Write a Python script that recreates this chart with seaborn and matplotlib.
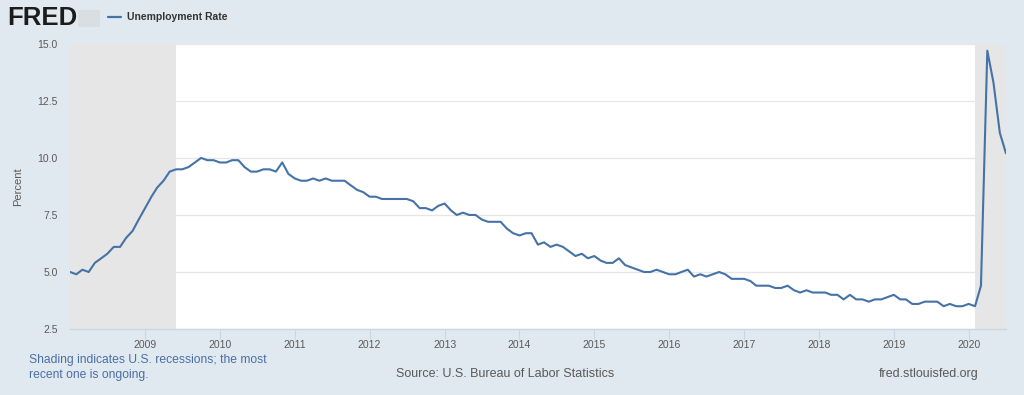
import pandas as pd
import matplotlib.pyplot as plt
import matplotlib.dates as mdates
import seaborn as sns

# monthly unemployment rate, Jan 2008 - Jul 2020
rate_2008 = [5.0, 4.9, 5.1, 5.0, 5.4, 5.6, 5.8, 6.1, 6.1, 6.5, 6.8, 7.3]
rate_2009 = [7.8, 8.3, 8.7, 9.0, 9.4, 9.5, 9.5, 9.6, 9.8, 10.0, 9.9, 9.9]
rate_2010 = [9.8, 9.8, 9.9, 9.9, 9.6, 9.4, 9.4, 9.5, 9.5, 9.4, 9.8, 9.3]
rate_2011 = [9.1, 9.0, 9.0, 9.1, 9.0, 9.1, 9.0, 9.0, 9.0, 8.8, 8.6, 8.5]
rate_2012 = [8.3, 8.3, 8.2, 8.2, 8.2, 8.2, 8.2, 8.1, 7.8, 7.8, 7.7, 7.9]
rate_2013 = [8.0, 7.7, 7.5, 7.6, 7.5, 7.5, 7.3, 7.2, 7.2, 7.2, 6.9, 6.7]
rate_2014 = [6.6, 6.7, 6.7, 6.2, 6.3, 6.1, 6.2, 6.1, 5.9, 5.7, 5.8, 5.6]
rate_2015 = [5.7, 5.5, 5.4, 5.4, 5.6, 5.3, 5.2, 5.1, 5.0, 5.0, 5.1, 5.0]
rate_2016 = [4.9, 4.9, 5.0, 5.1, 4.8, 4.9, 4.8, 4.9, 5.0, 4.9, 4.7, 4.7]
rate_2017 = [4.7, 4.6, 4.4, 4.4, 4.4, 4.3, 4.3, 4.4, 4.2, 4.1, 4.2, 4.1]
rate_2018 = [4.1, 4.1, 4.0, 4.0, 3.8, 4.0, 3.8, 3.8, 3.7, 3.8, 3.8, 3.9]
rate_2019 = [4.0, 3.8, 3.8, 3.6, 3.6, 3.7, 3.7, 3.7, 3.5, 3.6, 3.5, 3.5]
rate_2020 = [3.6, 3.5, 4.4, 14.7, 13.3, 11.1, 10.2]

recessions = [('2007-12-01', '2009-06-01'), ('2020-02-01', '2020-07-01')]
y_ticks = [2.5, 5.0, 7.5, 10.0, 12.5, 15.0]
x_years = list(range(2009, 2021))

rates = (rate_2008 + rate_2009 + rate_2010 + rate_2011 + rate_2012 + rate_2013
         + rate_2014 + rate_2015 + rate_2016 + rate_2017 + rate_2018 + rate_2019
         + rate_2020)
df = pd.DataFrame({'date': pd.date_range('2008-01-01', periods=len(rates), freq='MS'),
                   'rate': rates})

bg = '#e1e9f0'
line_col = '#4572a7'
text_col = '#595959'

sns.set_style('white')
plt.rcParams['font.family'] = ['Liberation Sans', 'DejaVu Sans']

fig = plt.figure(figsize=(10.24, 3.95), dpi=100, facecolor=bg)
ax = fig.add_axes([0.0684, 0.167, 0.914, 0.722])
ax.set_facecolor('white')

x_start = pd.Timestamp('2008-01-01')
x_end = pd.Timestamp('2020-07-01')
for r0, r1 in recessions:
    ax.axvspan(max(pd.Timestamp(r0), x_start), min(pd.Timestamp(r1), x_end),
               color='#e6e6e6', lw=0, zorder=0)

sns.lineplot(data=df, x='date', y='rate', ax=ax, color=line_col, lw=1.5, zorder=3)

ax.set_xlim(x_start, x_end)
ax.set_ylim(2.5, 15.0)
ax.set_yticks(y_ticks)
ax.set_yticklabels([f'{v:.1f}' for v in y_ticks])
ax.set_xticks([pd.Timestamp(f'{y}-01-01') for y in x_years])
ax.xaxis.set_major_formatter(mdates.DateFormatter('%Y'))
ax.grid(axis='y', color='#e6e6e6', lw=0.9, zorder=1)
ax.set_axisbelow(True)
for s in ['top', 'right', 'left']:
    ax.spines[s].set_visible(False)
ax.spines['bottom'].set_color('#c9d6e6')
ax.spines['bottom'].set_linewidth(1.0)
ax.tick_params(axis='x', colors='#c9d6e6', labelcolor=text_col, length=7, width=0.8,
               labelsize=7.5, pad=1, direction='out', bottom=True)
ax.tick_params(axis='y', length=0, labelcolor=text_col, labelsize=7.5, pad=9)
ax.set_xlabel('')
ax.set_ylabel('Percent', color=text_col, fontsize=8, labelpad=10)

# header
fig.text(0.007, 0.955, 'FRED', fontsize=18.5, fontweight='heavy', color='#1c1c1c',
         va='center', ha='left')
icon = fig.add_axes([0.076, 0.932, 0.022, 0.043])
icon.set_facecolor('#d9dee3')
icon.set_xticks([])
icon.set_yticks([])
for s in icon.spines.values():
    s.set_visible(False)
fig.add_artist(plt.Line2D([0.1055, 0.118], [0.956, 0.956], color=line_col, lw=1.6))
fig.text(0.124, 0.956, 'Unemployment Rate', fontsize=7.5, fontweight='bold',
         color='#333333', va='center', ha='left')

# footer
fig.text(0.0285, 0.103, 'Shading indicates U.S. recessions; the most\nrecent one is ongoing.',
         fontsize=8.7, color='#4a6fa5', va='top', ha='left', linespacing=1.3)
fig.text(0.493, 0.052, 'Source: U.S. Bureau of Labor Statistics', fontsize=9,
         color=text_col, va='center', ha='center')
fig.text(0.956, 0.052, 'fred.stlouisfed.org', fontsize=9, color=text_col,
         va='center', ha='right')

fig.savefig('out.png', dpi=100, facecolor=bg)
